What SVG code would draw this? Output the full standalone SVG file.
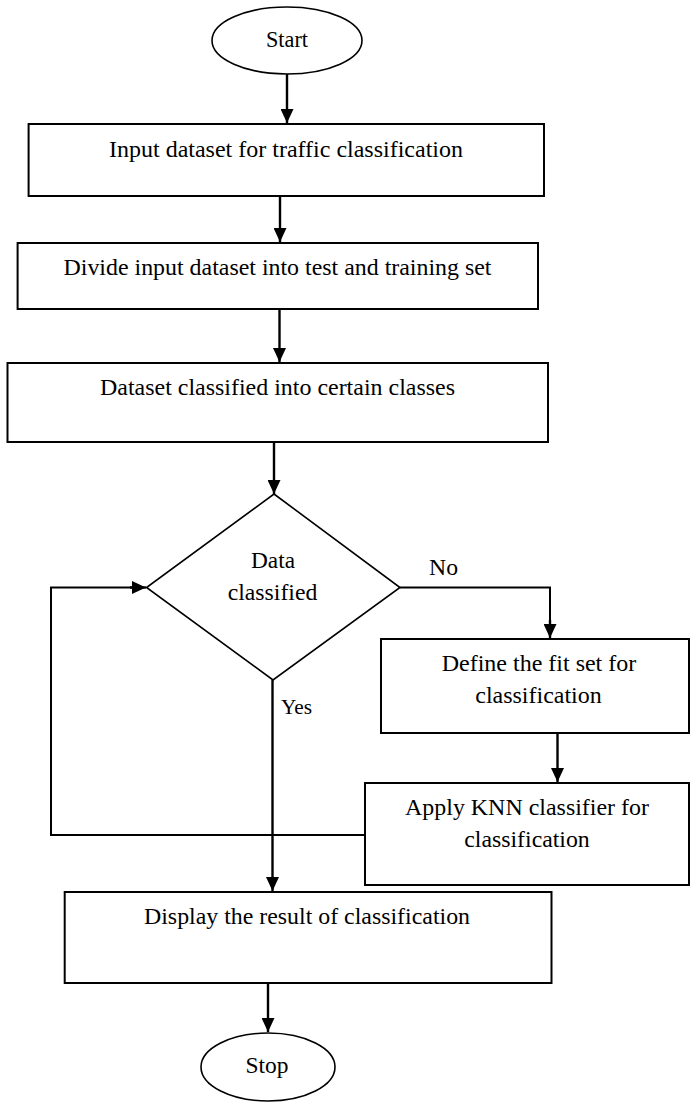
<svg xmlns="http://www.w3.org/2000/svg" width="690" height="1102" viewBox="0 0 690 1102">
<defs>
<marker id="arr" markerUnits="userSpaceOnUse" markerWidth="14" markerHeight="13" refX="14" refY="6.5" orient="auto">
<path d="M0,0 L14,6.5 L0,13 z" fill="#000"/>
</marker>
<style>
.box{fill:#fff;stroke:#000;stroke-width:2}
.shape{fill:#fff;stroke:#000;stroke-width:1.6}
text{font-family:"Liberation Serif",Tinos,"Times New Roman","DejaVu Serif",serif;fill:#000}
.t{font-size:24px;text-anchor:middle}
.c{fill:none;stroke:#000;stroke-width:2}
.a{fill:none;stroke:#000;stroke-width:2.4;marker-end:url(#arr)}
</style>
</defs>
<rect width="690" height="1102" fill="#fff"/>
<g id="connectors">
<line class="a" x1="287" y1="74" x2="287" y2="123"/>
<line class="a" x1="280" y1="196" x2="280" y2="242"/>
<line class="a" x1="279.5" y1="309" x2="279.5" y2="362"/>
<line class="a" x1="274" y1="442" x2="274" y2="494"/>
<polyline class="c" points="400,587.5 550,587.5 550,625"/>
<line class="a" x1="550" y1="620" x2="550" y2="638"/>
<line class="a" x1="557.5" y1="733" x2="557.5" y2="782"/>
<polyline class="c" points="365,835 51,835 51,587.5 135,587.5"/>
<line class="a" x1="130" y1="587.5" x2="146" y2="587.5"/>
<line class="a" x1="272.5" y1="680" x2="272.5" y2="891"/>
<line class="a" x1="268" y1="983" x2="268" y2="1032"/>
<text x="429" y="575" font-size="24" textLength="29" lengthAdjust="spacingAndGlyphs">No</text>
<text x="281" y="714" font-size="20" textLength="31" lengthAdjust="spacingAndGlyphs">Yes</text>
</g>
<g id="start">
<ellipse class="shape" cx="287" cy="40.5" rx="75" ry="33.5"/>
<text class="t" x="287" y="47" font-size="23" textLength="42" lengthAdjust="spacingAndGlyphs">Start</text>
</g>
<g id="input">
<rect class="box" x="28.6" y="124" width="515.4" height="72"/>
<text class="t" x="286" y="157" textLength="354" lengthAdjust="spacingAndGlyphs">Input dataset for traffic classification</text>
</g>
<g id="divide">
<rect class="box" x="17.6" y="243" width="520.4" height="66"/>
<text class="t" x="277.5" y="275" textLength="428" lengthAdjust="spacingAndGlyphs">Divide input dataset into test and training set</text>
</g>
<g id="classified">
<rect class="box" x="7.5" y="363" width="540.5" height="79"/>
<text class="t" x="277.5" y="395" textLength="355" lengthAdjust="spacingAndGlyphs">Dataset classified into certain classes</text>
</g>
<g id="decision">
<polygon class="shape" points="274,494 400,587.5 273,680 146.5,587.5"/>
<text class="t" x="273" y="568" textLength="44" lengthAdjust="spacingAndGlyphs">Data</text>
<text class="t" x="272.5" y="600" textLength="89.5" lengthAdjust="spacingAndGlyphs">classified</text>
</g>
<g id="define">
<rect class="box" x="381" y="639" width="308" height="94"/>
<text class="t" x="539" y="671" textLength="194.5" lengthAdjust="spacingAndGlyphs">Define the fit set for</text>
<text class="t" x="538.5" y="703" textLength="126.5" lengthAdjust="spacingAndGlyphs">classification</text>
</g>
<g id="knn">
<rect class="box" x="365" y="783" width="324" height="102"/>
<text class="t" x="527" y="815" textLength="244" lengthAdjust="spacingAndGlyphs">Apply KNN classifier for</text>
<text class="t" x="527" y="847" textLength="125.5" lengthAdjust="spacingAndGlyphs">classification</text>
</g>
<g id="display">
<rect class="box" x="64.7" y="892" width="486.8" height="91"/>
<text class="t" x="307" y="924" textLength="326" lengthAdjust="spacingAndGlyphs">Display the result of classification</text>
</g>
<g id="stop">
<ellipse class="shape" cx="268" cy="1067" rx="67" ry="34"/>
<text class="t" x="267" y="1073" textLength="43" lengthAdjust="spacingAndGlyphs">Stop</text>
</g>
</svg>
